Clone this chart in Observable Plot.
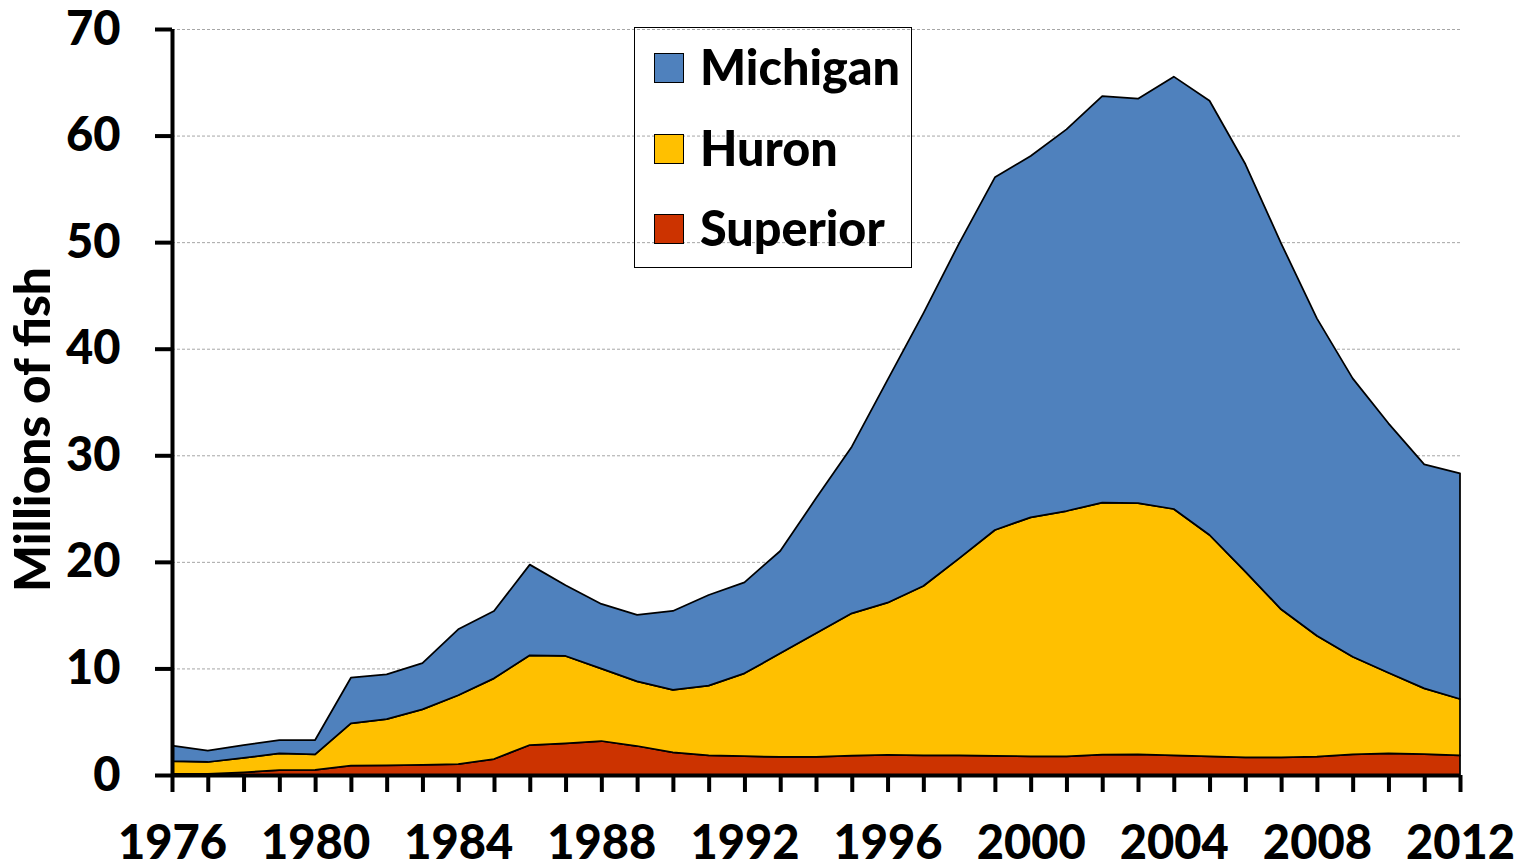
<!DOCTYPE html>
<html>
<head>
<meta charset="utf-8">
<script src="https://cdn.jsdelivr.net/npm/d3@7"></script>
<script src="https://cdn.jsdelivr.net/npm/@observablehq/plot@0.6"></script>
<style>
  html, body { margin: 0; padding: 0; background: #fff; }
  #wrap { position: relative; width: 1524px; height: 866px; font-family: Lato, "DejaVu Sans", sans-serif; }
  #legend { position: absolute; left: 634px; top: 27px; width: 276px; height: 239px; border: 1.5px solid #000; box-sizing: content-box; }
  .item { position: absolute; left: 19px; height: 40px; }
  .sw { position: absolute; left: 0; width: 28px; height: 28px; border: 1.5px solid #000; }
  .lb { position: absolute; left: 46px; font-weight: 900; font-size: 48.5px; line-height: 1; white-space: nowrap; color: #000; }
</style>
</head>
<body>
<div id="wrap"><div id="chart"></div><div id="legend"></div></div>
<script>
// ---- data ----
const years = [1976,1977,1978,1979,1980,1981,1982,1983,1984,1985,1986,1987,1988,1989,1990,1991,1992,1993,1994,1995,1996,1997,1998,1999,2000,2001,2002,2003,2004,2005,2006,2007,2008,2009,2010,2011,2012];
const superior = [0.1,0.1,0.25,0.45,0.47,0.88,0.91,0.94,1.03,1.5,2.81,2.97,3.19,2.72,2.12,1.84,1.78,1.69,1.69,1.81,1.88,1.84,1.84,1.8,1.75,1.75,1.92,1.94,1.84,1.75,1.66,1.66,1.72,1.94,2.03,1.97,1.84];
const huron = [1.2,1.12,1.35,1.58,1.47,3.97,4.34,5.22,6.45,7.57,8.42,8.2,6.79,6.07,5.86,6.54,7.76,9.73,11.61,13.36,14.29,15.89,18.49,21.19,22.43,23.02,23.64,23.58,23.12,20.77,17.42,13.89,11.35,9.16,7.57,6.16,5.29];
const michigan = [1.45,1.06,1.2,1.25,1.34,4.28,4.2,4.34,6.19,6.32,8.51,6.63,6.07,6.23,7.41,8.51,8.54,9.6,12.66,15.64,20.9,25.59,29.56,33.09,33.9,35.81,38.15,37.94,40.57,40.75,38.25,34.34,29.78,26.12,23.4,21.02,21.18];
const lakes = ["Michigan", "Huron", "Superior"];
const lakeColors = ["#4F81BD", "#FFC000", "#CC3300"];
const stackOrder = ["Superior", "Huron", "Michigan"];
const yTicks = [0, 10, 20, 30, 40, 50, 60, 70];
const xLabels = [1976, 1980, 1984, 1988, 1992, 1996, 2000, 2004, 2008, 2012];
const yLabel = "Millions of fish";

const series = {Michigan: michigan, Huron: huron, Superior: superior};
const data = stackOrder.flatMap(lake => years.map((year, i) => ({year, lake, value: series[lake][i]})));

const FS = 47;
const FW = 900;
const chart = Plot.plot({
  width: 1524,
  height: 866,
  marginLeft: 172,
  marginRight: 64,
  marginTop: 29,
  marginBottom: 91,
  x: {domain: [years[0], years[years.length - 1]], label: null},
  y: {domain: [yTicks[0], yTicks[yTicks.length - 1]], label: null},
  color: {domain: lakes, range: lakeColors},
  style: {fontFamily: "Lato, 'DejaVu Sans', sans-serif", fontWeight: FW, fontSize: FS + "px", color: "#000", background: "#fff", overflow: "visible"},
  marks: [
    Plot.ruleY(yTicks.slice(1), {stroke: "#a6a6a6", strokeWidth: 1, strokeDasharray: "3,2"}),
    Plot.areaY(data, {x: "year", y: "value", z: "lake", fill: "lake", stroke: "#000", strokeWidth: 1.75, strokeLinejoin: "round", order: stackOrder}),
    Plot.axisX({ticks: years, tickSize: 17, strokeWidth: 4, tickFormat: () => "", label: null}),
    Plot.axisX({ticks: xLabels, tickSize: 0, tickPadding: 50, tickFormat: d => String(d), fontSize: FS, fontWeight: FW, label: null}),
    Plot.axisY({ticks: yTicks, tickSize: 17, tickPadding: 35, strokeWidth: 4, tickFormat: d => String(d), fontSize: FS, fontWeight: FW, label: null}),
    Plot.ruleY(yTicks.slice(0, 1), {stroke: "#000", strokeWidth: 4}),
    Plot.ruleX(years.slice(0, 1), {stroke: "#000", strokeWidth: 4}),
    Plot.text([yLabel], {text: d => d, frameAnchor: "left", textAnchor: "middle", lineAnchor: "middle", rotate: -90, dx: -138, dy: 27, fontSize: 49.5, fontWeight: FW, fill: "#000"})
  ]
});
document.getElementById("chart").appendChild(chart);

// ---- legend (overlaid, transparent like the original) ----
const legend = document.getElementById("legend");
lakes.forEach((lake, i) => {
  const item = document.createElement("div");
  item.className = "item";
  item.style.top = (24 + i * 80.5) + "px";
  const sw = document.createElement("div");
  sw.className = "sw";
  sw.style.top = "1px";
  sw.style.background = lakeColors[i];
  const lb = document.createElement("div");
  lb.className = "lb";
  lb.style.top = "-10px";
  lb.textContent = lake;
  item.appendChild(sw);
  item.appendChild(lb);
  legend.appendChild(item);
});
</script>
</body>
</html>
